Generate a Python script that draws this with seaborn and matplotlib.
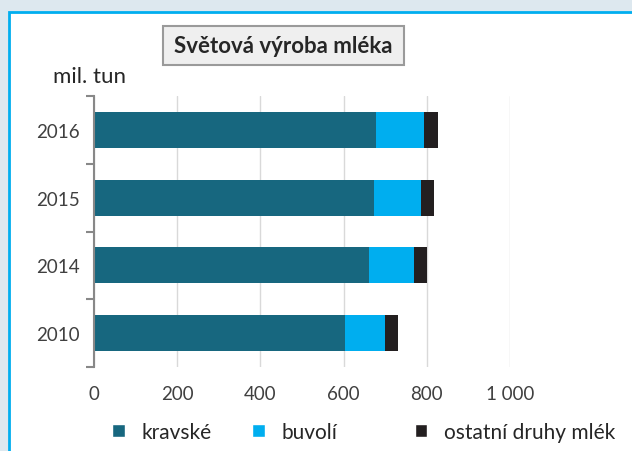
import matplotlib
matplotlib.use("Agg")
import numpy as np
import pandas as pd
import matplotlib.pyplot as plt
import matplotlib.patches as mpatches
import seaborn as sns

# Data (mil. tun)
years = ["2016", "2015", "2014", "2010"]
kravske = [678, 673, 661, 603]
buvoli = [115, 112, 108, 97]
ostatni = [33, 33, 31, 30]
series_names = ["kravské", "buvolí", "ostatní druhy mlék"]
x_ticks = [0, 200, 400, 600, 800, 1000]
x_tick_labels = ["0", "200", "400", "600", "800", "1 000"]

# Colours
COLORS = ["#17677f", "#00aeef", "#231f20"]
BG = "#dde8ef"
FRAME = "#00aeef"
TEXT = "#262626"
W, H = 632, 452
FS = 15
TICK_FS = 13.5

sns.set_style("white")
plt.rcParams["font.family"] = ["Lato", "DejaVu Sans"]

df = pd.DataFrame({"rok": years, "kravske": kravske, "buvoli": buvoli, "ostatni": ostatni})
# cumulative ends for the stacked bars
df["c1"] = df["kravske"]
df["c2"] = df["c1"] + df["buvoli"]
df["c3"] = df["c2"] + df["ostatni"]

fig = plt.figure(figsize=(W / 100, H / 100), dpi=100)
fig.patch.set_facecolor(BG)

# white panel with cyan frame (behind the axes)
fig.patches.append(mpatches.Rectangle((9 / W, -0.05), 1.0, 1 - 13 / H + 0.05,
                                      transform=fig.transFigure, facecolor="white",
                                      edgecolor=FRAME, lw=2, zorder=-1))

ax = fig.add_axes([94 / W, 84 / H, 416 / W, 271 / H])
ax.patch.set_alpha(0)

# draw longest first so shorter segments sit on top
for col, color in zip(["c3", "c2", "c1"], COLORS[::-1]):
    sns.barplot(data=df, x=col, y="rok", order=years, color=color, width=0.53,
                saturation=1, linewidth=0, orient="h", ax=ax)

ax.set_xlim(0, 1000)
ax.set_ylim(3.5, -0.5)
ax.set_xticks(x_ticks, x_tick_labels)
ax.set_xlabel("")
ax.set_ylabel("")
ax.xaxis.grid(True, color="#d9d9d9", lw=1)
ax.set_axisbelow(True)

ax.tick_params(axis="x", length=0, pad=13, labelsize=TICK_FS, labelcolor="#404040")
ax.tick_params(axis="y", length=0, pad=10, labelsize=TICK_FS, labelcolor="#404040")
# small ticks between the categories
ax.set_yticks(np.arange(-0.5, 4, 1), minor=True)
ax.tick_params(axis="y", which="minor", left=True, length=6, width=1.5, color="#888888")

for side in ["top", "right", "bottom"]:
    ax.spines[side].set_visible(False)
ax.spines["left"].set_color("#888888")
ax.spines["left"].set_linewidth(1.5)

# title box
fig.patches.append(mpatches.Rectangle((163 / W, 1 - 66 / H), 241 / W, 39 / H,
                                      transform=fig.transFigure, facecolor="#efefef",
                                      edgecolor="#9a9a9a", lw=1.5, zorder=1))
fig.text(283.5 / W, 1 - 46.5 / H, "Světová výroba mléka", ha="center", va="center",
         fontsize=16, fontweight="bold", color=TEXT, zorder=2)
fig.text(89.5 / W, 1 - 77 / H, "mil. tun", ha="center", va="center", fontsize=16, color=TEXT)

# legend entries sit at uneven spacing, so one legend per entry
legend_x = [112, 252, 415]
for name, color, lx in zip(series_names, COLORS, legend_x):
    fig.legend(handles=[mpatches.Patch(facecolor=color, label=name)], loc="center left",
               bbox_to_anchor=(lx / W, 1 - 433 / H), frameon=False, fontsize=FS,
               handlelength=0.6, handleheight=0.6, handletextpad=0.8,
               borderpad=0, borderaxespad=0, labelcolor=TEXT)

fig.savefig("out.png", dpi=100)
